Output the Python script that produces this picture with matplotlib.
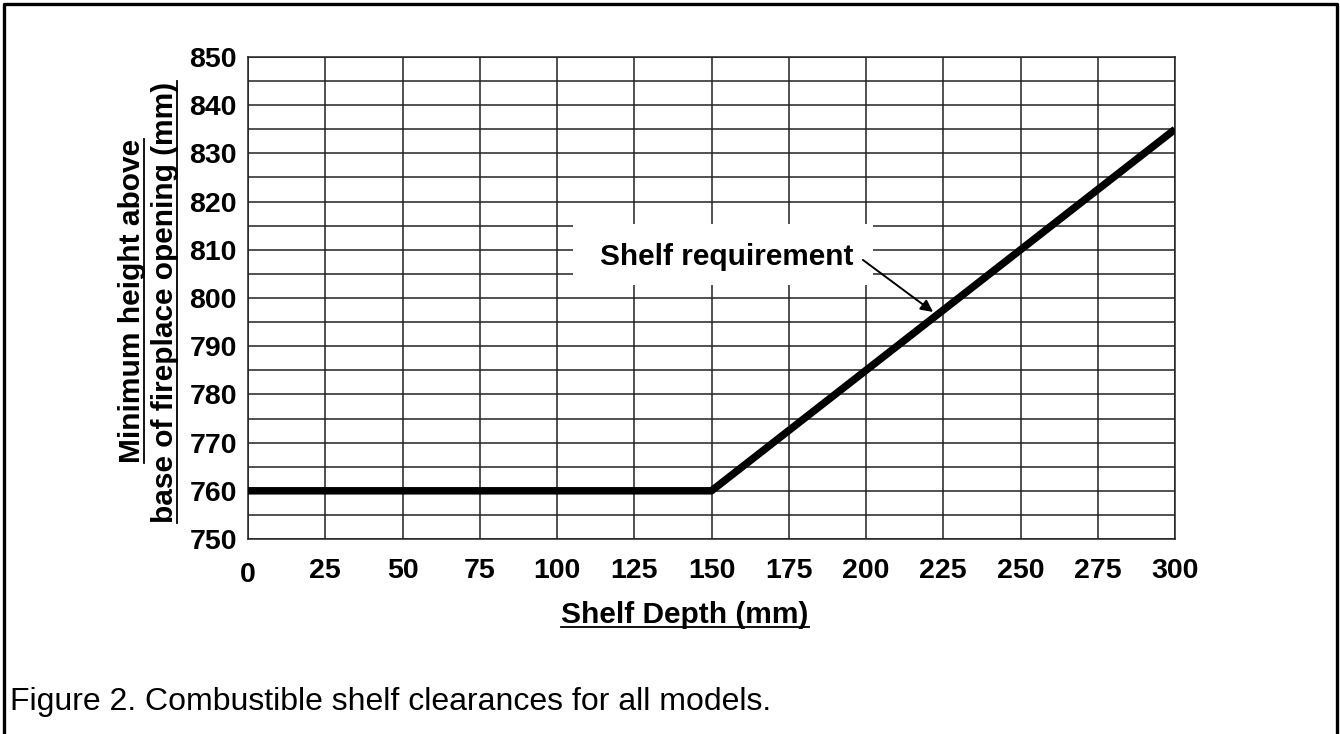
import matplotlib
matplotlib.use('Agg')
import matplotlib.pyplot as plt
from matplotlib.lines import Line2D
from matplotlib.patches import Rectangle
from matplotlib.transforms import ScaledTranslation

plt.rcParams['font.family'] = ['Liberation Sans', 'DejaVu Sans']

# data
depth = [0, 150, 300]              # shelf depth (mm)
min_height = [760, 760, 835]       # minimum height above base (mm)
x_ticks = list(range(0, 301, 25))
y_ticks = list(range(750, 851, 10))
y_minor = list(range(755, 850, 10))

W, H = 1340, 734
fig = plt.figure(figsize=(W / 100, H / 100), dpi=100)
ax = fig.add_axes([248 / W, (H - 539) / H, 927 / W, 482 / H])

ax.set_xlim(0, 300)
ax.set_ylim(750, 850)
ax.set_xticks(x_ticks)
ax.set_yticks(y_ticks)
ax.set_yticks(y_minor, minor=True)
ax.set_axisbelow(True)
ax.grid(which='both', color='#222222', lw=1.1)
ax.tick_params(which='both', length=0)
ax.tick_params(axis='x', pad=14, labelsize=20.5)
ax.tick_params(axis='y', pad=8, labelsize=20.5)
for lab in ax.get_xticklabels() + ax.get_yticklabels():
    lab.set_fontweight('bold')
for sp in ax.spines.values():
    sp.set_linewidth(1.1)
    sp.set_color('#222222')

# the "0" label sits a bit lower in the original
t0 = ax.xaxis.get_major_ticks()[0].label1
t0.set_transform(t0.get_transform() + ScaledTranslation(0, -0.04, fig.dpi_scale_trans))

ax.plot(depth, min_height, color='black', lw=5.4, zorder=3, solid_capstyle='butt')

# label box and arrow
ax.add_patch(Rectangle((105.2, 802.7), 97.0, 12.7, facecolor='white',
                       edgecolor='none', zorder=1))
ax.text(154.9, 808.6, 'Shelf requirement', fontsize=21.4, fontweight='bold',
        ha='center', va='center', zorder=4)
ax.annotate('', xy=(221.7, 797.1), xytext=(199.0, 807.9),
            arrowprops=dict(arrowstyle='-|>', color='black', lw=1.4,
                            mutation_scale=18, shrinkA=0, shrinkB=0),
            zorder=4)

# axis titles (underlined)
xl = fig.text(685 / W, (H - 615) / H, 'Shelf Depth (mm)', fontsize=21.5,
              fontweight='bold', ha='center', va='center')
yl1 = fig.text(132 / W, (H - 301) / H, 'Minimum height above', fontsize=21.5,
               fontweight='bold', rotation=90, ha='center', va='center')
yl2 = fig.text(165 / W, (H - 302) / H, 'base of fireplace opening (mm)',
               fontsize=21.5, fontweight='bold', rotation=90,
               ha='center', va='center')

fig.text(10 / W, (H - 710) / H, 'Figure 2. Combustible shelf clearances for all models.',
         fontsize=23, ha='left', va='baseline')

fig.canvas.draw()
r = fig.canvas.get_renderer()
bb = xl.get_window_extent(r)
fig.add_artist(Line2D([bb.x0 / W, bb.x1 / W], [(bb.y0 + 2) / H] * 2,
                      color='black', lw=1.3, transform=fig.transFigure))
for t in (yl1, yl2):
    bb = t.get_window_extent(r)
    fig.add_artist(Line2D([(bb.x1 - 2) / W] * 2, [bb.y0 / H, bb.y1 / H],
                          color='black', lw=1.3, transform=fig.transFigure))

# page frame (open at the bottom)
fig.add_artist(Line2D([3.5 / W, 3.5 / W, 1337 / W, 1337 / W],
                      [-0.01, (H - 3.5) / H, (H - 3.5) / H, -0.01],
                      color='black', lw=2.4, transform=fig.transFigure))

fig.savefig('out.png', dpi=100)
